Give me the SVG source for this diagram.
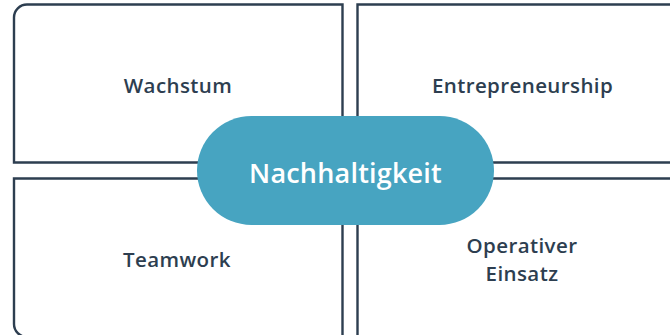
<svg xmlns="http://www.w3.org/2000/svg" width="670" height="335" viewBox="0 0 670 335">
<style>
.box{fill:#ffffff;stroke:#2d3e50;stroke-width:2.4}
.lbl{font-family:"Open Sans","Liberation Sans",sans-serif;font-weight:600;font-size:20.5px;fill:#2d3e50;text-anchor:middle;letter-spacing:0.4px}
.ctr{fill:#47a4c1}
.ctxt{font-family:"Open Sans","Liberation Sans",sans-serif;font-weight:600;font-size:27px;fill:#ffffff;text-anchor:middle;letter-spacing:0.2px}
</style>
<rect width="670" height="335" fill="#ffffff"/>
<g id="wachstum">
<path class="box" d="M342.5,162.5 V4.5 H27 A13,13 0 0 0 14,17.5 V162.5 Z"/>
<text class="lbl" x="178" y="93">Wachstum</text>
</g>
<g id="entrepreneurship">
<path class="box" d="M357.5,162.5 V4.5 H674 A13,13 0 0 1 687,17.5 V162.5 Z"/>
<text class="lbl" x="522.5" y="93">Entrepreneurship</text>
</g>
<g id="teamwork">
<path class="box" d="M342.5,178.5 V337 H27 A13,13 0 0 1 14,324 V178.5 Z"/>
<text class="lbl" x="177" y="267">Teamwork</text>
</g>
<g id="operativer-einsatz">
<path class="box" d="M357.5,178.5 V340 H687 V178.5 Z"/>
<text class="lbl" x="522" y="253">Operativer</text>
<text class="lbl" x="522" y="281">Einsatz</text>
</g>
<g id="nachhaltigkeit">
<rect class="ctr" x="197" y="116" width="297" height="109" rx="54.5"/>
<text class="ctxt" x="345.5" y="183">Nachhaltigkeit</text>
</g>
</svg>
